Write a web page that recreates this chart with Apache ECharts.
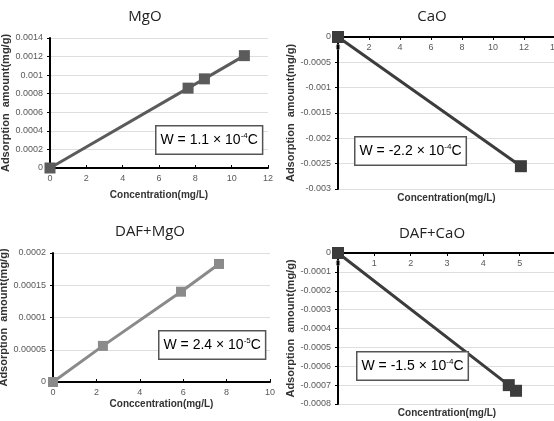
<!DOCTYPE html>
<html>
<head>
<meta charset="utf-8">
<script src="https://cdn.jsdelivr.net/npm/echarts@6/dist/echarts.min.js"></script>
<style>
  html, body { margin: 0; padding: 0; background: #fff; }
  #main { width: 554px; height: 421px; }
</style>
</head>
<body>
<div id="main"></div>
<script>
// panel titles and fitted equations
const titles = ['MgO', 'CaO', 'DAF+MgO', 'DAF+CaO'];
const eqCoef = ['1.1', '-2.2', '2.4', '-1.5'];
const eqExp = ['-4', '-4', '-5', '-4'];
const xNames = ['Concentration(mg/L)', 'Concentration(mg/L)', 'Conccentration(mg/L)', 'Concentration(mg/L)'];

// measured points
const mgoX = [0, 7.6, 8.5, 10.7];
const mgoY = [0, 0.00086, 0.00096, 0.00121];
const caoX = [0, 11.8];
const caoY = [0, -0.00255];
const dafMgoX = [0, 2.3, 5.9, 7.65];
const dafMgoY = [0, 0.000056, 0.00014, 0.000183];
const dafCaoX = [0, 4.7, 4.9];
const dafCaoY = [0, -0.0007, -0.00073];

// axis ranges
const xMax = [12, 14, 10, 6];
const xStep = [2, 2, 2, 1];
const yMin = [0, -0.003, 0, -0.0008];
const yMax = [0.0014, 0, 0.0002, 0];
const yStep = [0.0002, 0.0005, 0.00005, 0.0001];

const chart = echarts.init(document.getElementById('main'));

const grids = [
  {left: 50, top: 38, width: 218, height: 130},
  {left: 338, top: 37, width: 217, height: 152},
  {left: 53, top: 253, width: 217, height: 129},
  {left: 338, top: 253, width: 218, height: 151}
].map(g => Object.assign({outerBoundsMode: 'none', containLabel: false}, g));

const colors = ['#5b5b5b', '#3c3c3c', '#8a8a8a', '#3c3c3c'];
const symSize = [11, 12, 10, 12];
const xNameGap = [22, -166, 17, -165];
const yNameGap = [32, 42, 35, 37];
const pts = [[mgoX, mgoY], [caoX, caoY], [dafMgoX, dafMgoY], [dafCaoX, dafCaoY]];

const labelFont = {fontFamily: 'Liberation Sans Narrow, Liberation Sans, sans-serif', fontSize: 9, color: '#595959'};

const xAxes = grids.map((g, i) => {
  const neg = yMin[i] < 0;
  return {
    gridIndex: i, type: 'value', min: 0, max: xMax[i], interval: xStep[i],
    position: neg ? 'top' : 'bottom',
    name: xNames[i], nameLocation: 'middle', nameGap: xNameGap[i],
    nameTextStyle: {fontFamily: 'Liberation Sans, Arial, sans-serif', fontSize: 10, fontWeight: 'bold', color: '#333'},
    axisLine: {onZero: false, lineStyle: {color: '#000', width: 2}},
    axisTick: {inside: true, length: 3, lineStyle: {color: '#000'}},
    axisLabel: Object.assign({margin: 6, inside: neg}, labelFont),
    splitLine: {show: false}
  };
});

const yAxes = grids.map((g, i) => ({
  gridIndex: i, type: 'value', min: yMin[i], max: yMax[i], interval: yStep[i],
  name: 'Adsorption  amount(mg/g)', nameLocation: 'middle', nameGap: yNameGap[i],
  nameTextStyle: {fontFamily: 'Liberation Sans, Arial, sans-serif', fontSize: 11, fontWeight: 'bold', color: '#333'},
  axisLine: {show: true, onZero: false, lineStyle: {color: '#000', width: 2}},
  axisTick: {show: true, length: 3, lineStyle: {color: '#000'}},
  axisLabel: Object.assign({margin: 7}, labelFont),
  splitLine: {show: true, showMinLine: true, showMaxLine: true, lineStyle: {color: '#dedede', width: 1}}
}));

const series = pts.map((p, i) => ({
  type: 'line', xAxisIndex: i, yAxisIndex: i,
  data: p[0].map((x, k) => [x, p[1][k]]),
  symbol: 'rect', symbolSize: symSize[i], clip: false,
  lineStyle: {color: colors[i], width: 3},
  itemStyle: {color: colors[i]}
}));

const titleOpts = [
  {text: titles[0], left: 140, top: 4},
  {text: titles[1], left: 427, top: 4},
  {text: titles[2], left: 145, top: 219},
  {text: titles[3], left: 427, top: 221}
].map(t => ({
  text: t.text, left: t.left, top: t.top, textAlign: 'center',
  textStyle: {fontFamily: 'Open Sans, sans-serif', fontSize: 15, fontWeight: 'normal', color: '#222'}
}));

const boxPos = [[155, 125], [354, 136], [158, 330], [356, 351]];
const graphic = boxPos.map((b, i) => ({
  type: 'text', left: b[0], top: b[1], z: 10,
  style: {
    text: '{m|W = ' + eqCoef[i] + ' × 10}{s|' + eqExp[i] + '}{m|C}',
    rich: {
      m: {fontFamily: 'Liberation Sans Narrow, Liberation Sans, sans-serif', fontSize: 14, color: '#111', lineHeight: 18},
      s: {fontFamily: 'Liberation Sans Narrow, Liberation Sans, sans-serif', fontSize: 8, color: '#111', verticalAlign: 'top', lineHeight: 18, padding: [0, 0, 7, 0]}
    },
    backgroundColor: '#fff', borderColor: '#555', borderWidth: 1.5,
    padding: [5, 4, 4, 4]
  }
}));

chart.setOption({
  animation: false,
  title: titleOpts,
  grid: grids,
  xAxis: xAxes,
  yAxis: yAxes,
  series: series,
  graphic: graphic
});
</script>
</body>
</html>
